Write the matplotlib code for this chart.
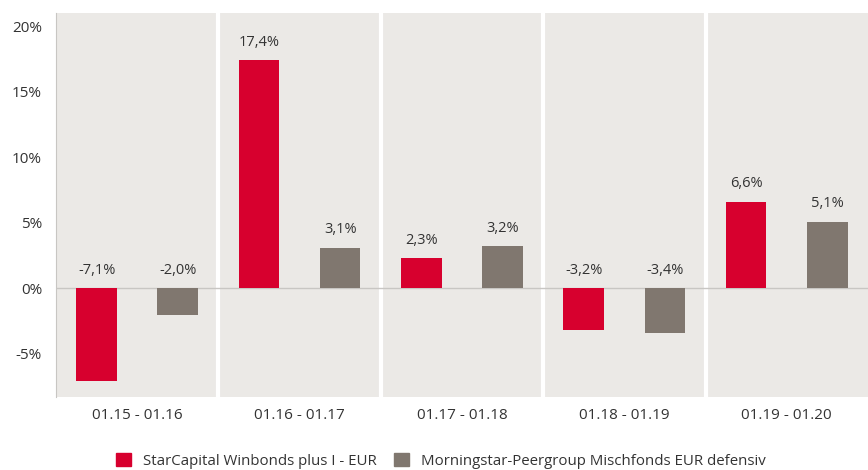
import numpy as np
import matplotlib.pyplot as plt
from matplotlib.patches import Patch

periods = ["01.15 - 01.16", "01.16 - 01.17", "01.17 - 01.18", "01.18 - 01.19", "01.19 - 01.20"]
fund = [-7.1, 17.4, 2.3, -3.2, 6.6]
peer = [-2.0, 3.1, 3.2, -3.4, 5.1]
series_names = ["StarCapital Winbonds plus I - EUR", "Morningstar-Peergroup Mischfonds EUR defensiv"]

RED = "#d7002e"
GREY = "#80776f"
BG = "#ebe9e6"
TXT = "#333333"

plt.rcParams['font.family'] = ['Open Sans', 'DejaVu Sans']

fig = plt.figure(figsize=(8.68, 4.70), dpi=100)
ax = fig.add_axes([0.0645, 0.155, 0.9355, 0.817])
ax.set_facecolor(BG)

x = np.arange(len(periods))
w = 0.25
ax.bar(x - w, fund, w, color=RED, zorder=3)
ax.bar(x + w, peer, w, color=GREY, zorder=3)

def fmt(v):
    return ("%.1f%%" % v).replace(".", ",")

for xi, vals, off in [(x, fund, -w), (x, peer, w)]:
    for i, v in enumerate(vals):
        y = v + 0.8 if v > 0 else 0.8
        ax.text(xi[i] + off, y, fmt(v), ha="center", va="bottom", fontsize=10.5, color=TXT)

# white separators between periods
for b in np.arange(0.5, len(periods) - 0.5, 1):
    ax.axvline(b, color="white", lw=3, zorder=2)

ax.axhline(0, color="#c8c6c3", lw=1, zorder=2)

ax.set_xlim(-0.5, len(periods) - 0.5)
ax.set_ylim(-8.3, 21)
ax.set_yticks([-5, 0, 5, 10, 15, 20])
ax.set_yticklabels(["%d%%" % t for t in [-5, 0, 5, 10, 15, 20]])
ax.set_xticks(x)
ax.set_xticklabels(periods)
ax.tick_params(length=0, labelsize=11, colors=TXT)
ax.tick_params(axis="x", pad=8)
ax.tick_params(axis="y", pad=10)
for s in ["top", "right", "bottom"]:
    ax.spines[s].set_visible(False)
ax.spines["left"].set_color("#c8c6c3")

handles = [Patch(color=RED), Patch(color=GREY)]
fig.legend(handles, series_names, loc="lower center", bbox_to_anchor=(0.508, -0.026),
           ncol=2, frameon=False, fontsize=10.8, handlelength=1.0, handleheight=1.0,
           columnspacing=1.2, handletextpad=0.8, labelcolor=TXT)

fig.savefig("out.png", dpi=100)
